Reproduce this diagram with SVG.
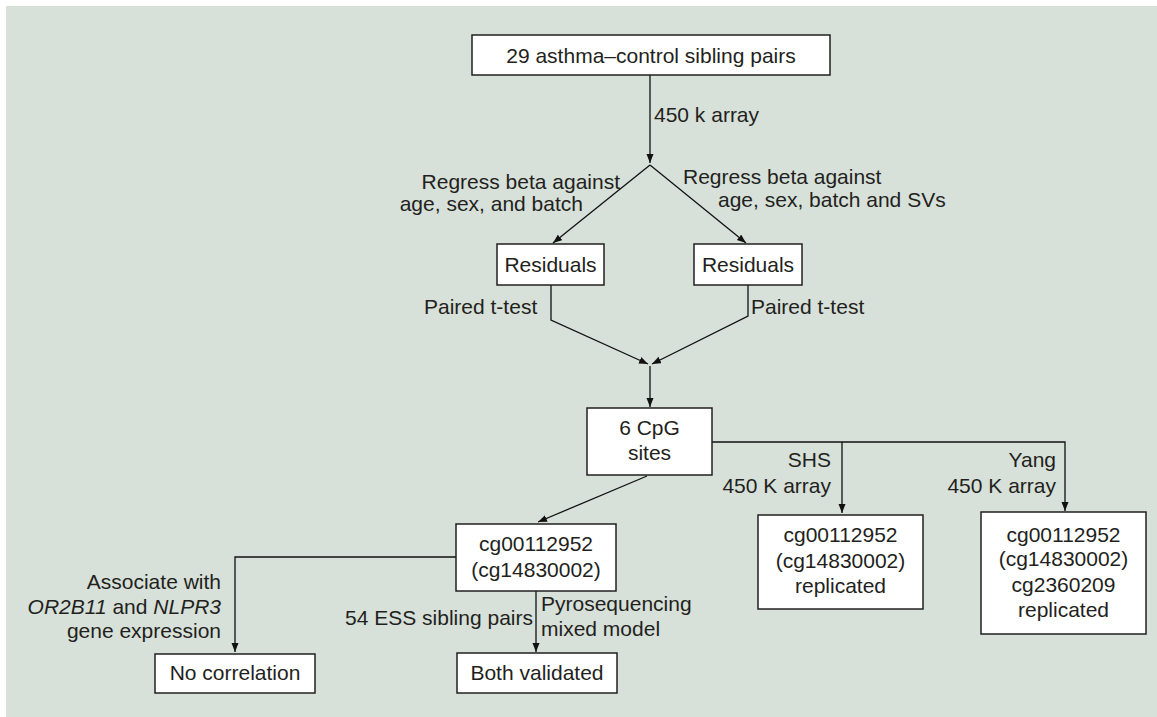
<svg xmlns="http://www.w3.org/2000/svg" width="1157" height="717" viewBox="0 0 1157 717">
<style>
text{font-family:"Liberation Sans",Arial,sans-serif;font-size:21px;fill:#231f20}
.box{fill:#ffffff;stroke:#231f20;stroke-width:1.5}
.c{text-anchor:middle}
.e{text-anchor:end}
.ln{fill:none;stroke:#111;stroke-width:1.3}
</style>
<defs>
<marker id="arr" markerUnits="userSpaceOnUse" markerWidth="10" markerHeight="8" refX="9" refY="3.5" orient="auto">
<path d="M0,0 L9,3.5 L0,7 z" fill="#111"/>
</marker>
</defs>
<rect x="6" y="6" width="1151" height="711" fill="#d7e1d9"/>
<g id="connectors">
<path class="ln" d="M650,75 V163" marker-end="url(#arr)"/>
<path class="ln" d="M650,165 L553,243" marker-end="url(#arr)"/>
<path class="ln" d="M650,165 L746,243" marker-end="url(#arr)"/>
<path class="ln" d="M551,285 V320 L648,364" marker-end="url(#arr)"/>
<path class="ln" d="M748,285 V316 L652,364" marker-end="url(#arr)"/>
<path class="ln" d="M650,366 V407" marker-end="url(#arr)"/>
<path class="ln" d="M647,476 L538,522" marker-end="url(#arr)"/>
<path class="ln" d="M456,557 H235 V652" marker-end="url(#arr)"/>
<path class="ln" d="M536,591 V652" marker-end="url(#arr)"/>
<path class="ln" d="M712,442 H1065 V511" marker-end="url(#arr)"/>
<path class="ln" d="M842,442 V513" marker-end="url(#arr)"/>
<text x="654" y="122">450 k array</text>
<text class="e" x="620" y="189">Regress beta against</text>
<text class="e" x="583" y="211">age, sex, and batch</text>
<text x="683" y="184">Regress beta against</text>
<text x="718" y="207">age, sex, batch and SVs</text>
<text x="424" y="314">Paired t-test</text>
<text x="751" y="314">Paired t-test</text>
<text class="e" x="221" y="589">Associate with</text>
<text class="e" x="221" y="614"><tspan font-style="italic">OR2B11</tspan> and <tspan font-style="italic">NLPR3</tspan></text>
<text class="e" x="221" y="638">gene expression</text>
<text class="e" x="533" y="625">54 ESS sibling pairs</text>
<text x="541" y="611">Pyrosequencing</text>
<text x="541" y="636">mixed model</text>
<text class="e" x="831" y="467">SHS</text>
<text class="e" x="831" y="493">450 K array</text>
<text class="e" x="1056" y="467">Yang</text>
<text class="e" x="1056" y="493">450 K array</text>
</g>
<g id="top">
<rect class="box" x="472" y="35" width="358" height="40"/>
<text class="c" x="651" y="63">29 asthma–control sibling pairs</text>
</g>
<g id="residuals-left">
<rect class="box" x="497" y="244" width="107" height="41"/>
<text class="c" x="550.5" y="272">Residuals</text>
</g>
<g id="residuals-right">
<rect class="box" x="694" y="244" width="108" height="41"/>
<text class="c" x="748" y="272">Residuals</text>
</g>
<g id="cpg">
<rect class="box" x="587" y="408" width="125" height="67"/>
<text class="c" x="649.5" y="435">6 CpG</text>
<text class="c" x="649.5" y="460">sites</text>
</g>
<g id="cg-main">
<rect class="box" x="456" y="524" width="160" height="67"/>
<text class="c" x="536" y="551">cg00112952</text>
<text class="c" x="536" y="577">(cg14830002)</text>
</g>
<g id="no-correlation">
<rect class="box" x="155" y="654" width="160" height="39"/>
<text class="c" x="235" y="680">No correlation</text>
</g>
<g id="both-validated">
<rect class="box" x="457" y="653" width="160" height="40"/>
<text class="c" x="537" y="680">Both validated</text>
</g>
<g id="shs">
<rect class="box" x="758" y="515" width="165" height="94"/>
<text class="c" x="840.5" y="542">cg00112952</text>
<text class="c" x="840.5" y="568">(cg14830002)</text>
<text class="c" x="840.5" y="593">replicated</text>
</g>
<g id="yang">
<rect class="box" x="981" y="512" width="165" height="122"/>
<text class="c" x="1063.5" y="542">cg00112952</text>
<text class="c" x="1063.5" y="566">(cg14830002)</text>
<text class="c" x="1063.5" y="592">cg2360209</text>
<text class="c" x="1063.5" y="617">replicated</text>
</g>
</svg>
